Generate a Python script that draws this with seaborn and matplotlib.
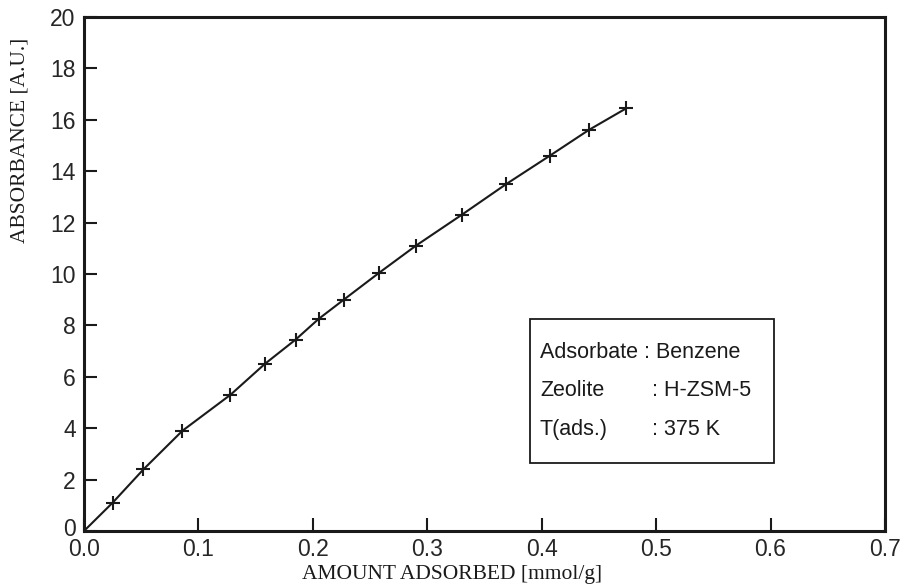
import seaborn as sns
import matplotlib.pyplot as plt
import matplotlib.patches as mpatches
import matplotlib.transforms as mtransforms
import pandas as pd

# amount adsorbed [mmol/g] vs absorbance [A.U.]
amount = [0.0, 0.025, 0.052, 0.086, 0.128, 0.158, 0.185, 0.205, 0.227, 0.258,
          0.290, 0.330, 0.369, 0.407, 0.441, 0.474]
absorbance = [0.0, 1.1, 2.4, 3.9, 5.3, 6.5, 7.45, 8.25, 9.0, 10.05,
              11.1, 12.3, 13.5, 14.6, 15.6, 16.45]
x_ticks = [0.0, 0.1, 0.2, 0.3, 0.4, 0.5, 0.6, 0.7]
y_ticks = [0, 2, 4, 6, 8, 10, 12, 14, 16, 18, 20]
info_keys = ["Zeolite", "T(ads.)"]
info_vals = ["H-ZSM-5", "375 K"]

df = pd.DataFrame({"amount": amount, "absorbance": absorbance})

sns.set_style("ticks")
plt.rcParams['font.family'] = ['Liberation Sans', 'DejaVu Sans']
ink = "#1a1a1a"

fig = plt.figure(figsize=(9.1, 5.87), dpi=100)
ax = fig.add_axes([0.0923, 0.0954, 0.8802, 0.8756])

sns.lineplot(data=df, x="amount", y="absorbance", color=ink, lw=1.5, ax=ax)
sns.scatterplot(data=df.iloc[1:], x="amount", y="absorbance", marker="+", s=90,
                color=ink, linewidth=1.5, ax=ax)

ax.set_xlim(0, 0.7)
ax.set_ylim(0, 20)
ax.set_xticks(x_ticks)
ax.set_yticks(y_ticks)
ax.set_xticklabels([f"{t:.1f}" for t in x_ticks], fontsize=16.5)
ax.set_yticklabels([str(t) for t in y_ticks], fontsize=16.5)
ax.tick_params(direction="in", length=9.5, width=1.5, color=ink)
ax.tick_params(axis="x", pad=5)
ax.tick_params(axis="y", pad=6)

# nudge the "0" on the y axis up a little so it clears "0.0"
lbl0 = ax.get_yticklabels()[0]
lbl0.set_transform(lbl0.get_transform() +
                   mtransforms.ScaledTranslation(0, 3 / 72, fig.dpi_scale_trans))

for s in ax.spines.values():
    s.set_linewidth(2.2)
    s.set_color(ink)

ax.set_xlabel("")
ax.set_ylabel("")
fig.text(452 / 910, 1 - 574 / 587, "AMOUNT ADSORBED [mmol/g]", family="Liberation Serif",
         fontsize=15.5, ha="center", va="center", color=ink)
fig.text(20 / 910, 1 - 140 / 587, "ABSORBANCE [A.U.]", family="Liberation Serif",
         fontsize=15.5, ha="center", va="center", rotation=90, color=ink)

# info box
ax.add_patch(mpatches.Rectangle((0.390, 2.65), 0.213, 5.58, fill=False,
                                lw=1.3, ec=ink))
ax.text(0.3985, 6.96, "Adsorbate : Benzene", fontsize=15.5, va="center", ha="left", color=ink)
for i, (k, v) in enumerate(zip(info_keys, info_vals)):
    yy = 5.46 - i * 1.5
    ax.text(0.3985, yy, k, fontsize=15.5, va="center", ha="left", color=ink)
    ax.text(0.4965, yy, ": " + v, fontsize=15.5, va="center", ha="left", color=ink)

plt.savefig("out.png", dpi=100)
